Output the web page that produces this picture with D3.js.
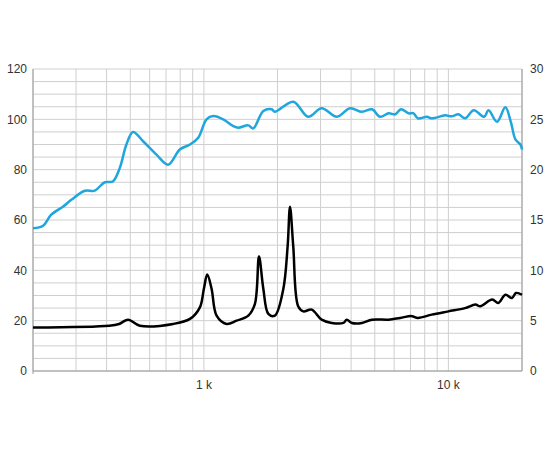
<!DOCTYPE html>
<html>
<head>
<meta charset="utf-8">
<script src="https://cdn.jsdelivr.net/npm/d3@7"></script>
<style>
  body { margin: 0; background: #fff; }
  text { font-family: "Liberation Sans", Arial, sans-serif; font-size: 12px; fill: #333; }
</style>
</head>
<body>
<svg id="chart" width="550" height="450"></svg>
<script>
// data

var blueFreq = [200, 220, 237, 265, 287, 326, 358, 393, 424, 453, 482, 513, 564, 640, 714, 797, 877, 948, 1025, 1092, 1200, 1319, 1383, 1519, 1592, 1750, 1893, 1950, 2320, 2670, 3030, 3500, 3960, 4430, 4870, 5260, 5700, 6060, 6400, 6870, 7200, 7500, 8170, 8550, 9700, 10300, 11000, 11700, 12700, 14000, 14600, 15800, 17100, 18000, 18800, 19700, 20000];
var blueVal = [56.7, 57.7, 62, 65.3, 68, 71.6, 71.7, 75, 75.3, 80.7, 90, 95, 91.3, 86, 82, 88, 90, 92.7, 100, 101.3, 100, 97.3, 96.7, 97.6, 96.4, 103.3, 104, 103, 107, 101, 104.4, 101, 104.4, 103, 104, 101, 102.4, 102, 104, 102.4, 102.4, 100.4, 101, 100.4, 101.6, 101.2, 102, 100.4, 103.6, 101, 103.6, 99, 104.8, 99, 92, 90, 88];

var blackFreq = [200, 410, 450, 490, 547, 749, 877, 963, 1000, 1032, 1075, 1127, 1238, 1360, 1519, 1617, 1680, 1750, 1835, 1950, 2110, 2200, 2250, 2320, 2430, 2550, 2760, 3030, 3330, 3720, 3840, 4030, 4430, 4870, 5700, 6350, 7090, 7500, 8550, 10000, 11700, 12900, 13500, 15100, 16000, 17100, 18200, 18900, 20000];
var blackVal = [17.3, 18, 18.7, 20.4, 18, 18.7, 20.7, 25.3, 32.7, 38.3, 32.7, 22, 18.7, 20, 22, 26.7, 45.5, 32.7, 22.7, 22, 32.3, 49.5, 65.3, 49.5, 25.7, 23.7, 24.4, 20.4, 19.1, 19.1, 20.4, 19.1, 19.1, 20.4, 20.4, 21.1, 21.8, 21.1, 22.4, 23.7, 25, 26.4, 25.7, 28.4, 27, 30.3, 29, 31, 30.3];

var leftTicks = [0, 20, 40, 60, 80, 100, 120];
var rightTicks = [0, 5, 10, 15, 20, 25, 30];
var gridFreqs = [200, 300, 400, 500, 600, 700, 800, 900, 1000, 2000, 3000, 4000, 5000, 6000, 7000, 8000, 9000, 10000, 20000];
var xLabels = [[1000, "1 k"], [10000, "10 k"]];

var svg = d3.select("#chart");

var x = d3.scaleLog().domain([200, 20000]).range([33, 522]);
var y = d3.scaleLinear().domain([0, 120]).range([371, 69]);
var yRight = d3.scaleLinear().domain([0, 30]).range([371, 69]);

// grid
svg.append("g").selectAll("line")
   .data(d3.range(0, 121, 5))
   .enter().append("line")
   .attr("x1", 33).attr("x2", 522)
   .attr("y1", d => y(d)).attr("y2", d => y(d))
   .attr("stroke", "#cfcfcf").attr("stroke-width", 1);

svg.append("g").selectAll("line")
   .data(gridFreqs)
   .enter().append("line")
   .attr("x1", d => x(d)).attr("x2", d => x(d))
   .attr("y1", 69).attr("y2", 371)
   .attr("stroke", "#cfcfcf").attr("stroke-width", 1);

// frame lines
svg.append("line").attr("x1", 33).attr("x2", 33).attr("y1", 69).attr("y2", 374).attr("stroke", "#999");
svg.append("line").attr("x1", 522).attr("x2", 522).attr("y1", 69).attr("y2", 371).attr("stroke", "#999");
svg.append("line").attr("x1", 33).attr("x2", 522).attr("y1", 371).attr("y2", 371).attr("stroke", "#999");

// axes labels
const gLeft = svg.append("g").attr("transform", "translate(33,0)");
gLeft.call(d3.axisLeft(y).tickValues(leftTicks).tickSize(0).tickPadding(6));
const gRight = svg.append("g").attr("transform", "translate(522,0)");
gRight.call(d3.axisRight(yRight).tickValues(rightTicks).tickSize(0).tickPadding(8));
svg.selectAll(".domain").remove();

svg.append("g").selectAll("text")
   .data(xLabels)
   .enter().append("text")
   .attr("x", d => x(d[0])).attr("y", 389)
   .attr("text-anchor", "middle")
   .text(d => d[1]);

// curves
var line = d3.line()
    .x(d => x(d[0]))
    .y(d => y(d[1]))
    .curve(d3.curveCatmullRom.alpha(0.5));

svg.append("path")
   .datum(d3.zip(blueFreq, blueVal))
   .attr("d", line)
   .attr("fill", "none")
   .attr("stroke", "#1ea6dd")
   .attr("stroke-width", 2.5);

svg.append("path")
   .datum(d3.zip(blackFreq, blackVal))
   .attr("d", line)
   .attr("fill", "none")
   .attr("stroke", "#000")
   .attr("stroke-width", 2.5);
</script>
</body>
</html>
